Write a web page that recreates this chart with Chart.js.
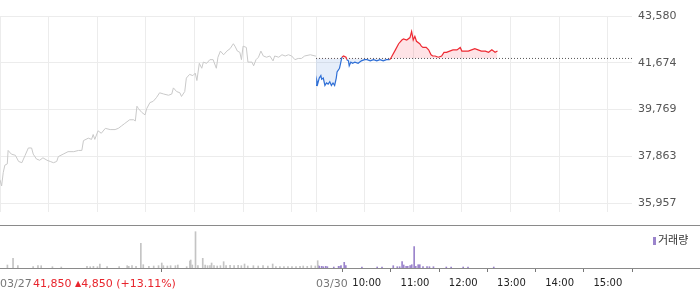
<!DOCTYPE html>
<html>
<head>
<meta charset="utf-8">
<script src="https://cdn.jsdelivr.net/npm/chart.js@4/dist/chart.umd.min.js"></script>
<style>
  html, body { margin: 0; padding: 0; background: #fff; }
  #wrap { position: relative; width: 700px; height: 289px; overflow: hidden; font-family: "DejaVu Sans", sans-serif; }
  #c1 { position: absolute; left: 0; top: 0; }
  #c2 { position: absolute; left: 0; top: 225px; }
  .hline { position: absolute; left: 0; width: 700px; height: 1px; background: #8a8a8a; }
  .lbl { position: absolute; font-size: 11px; line-height: 13px; white-space: nowrap; }
  #legend { position: absolute; left: 653px; top: 232px; font-family: "Noto Sans CJK KR", sans-serif; font-size: 11px; line-height: 14px; color: #333; white-space: nowrap; }
  #legend i { display: inline-block; width: 3px; height: 8px; background: #9b84cc; margin-right: 2px; vertical-align: -1px; }
</style>
</head>
<body>
<div id="wrap">
  <canvas id="c1" width="700" height="225"></canvas>
  <canvas id="c2" width="700" height="64"></canvas>
  <div class="hline" style="top:225px"></div>
  <div class="hline" style="top:268px; background:#8a8a8a"></div>
  <div class="lbl" id="d1" style="left:0; top:277px; color:#777">03/27</div>
  <div class="lbl" id="chg" style="left:33px; top:277px; color:#e8252d">41,850 <span style="font-size:8px; vertical-align:1px">▲</span>4,850 (+13.11%)</div>
  <div class="lbl" id="d2" style="left:316px; top:277px; color:#777">03/30</div>
  <div id="legend"><i></i>거래량</div>
</div>
<script>
// ---- data ----
const prevClose = 41850;
const yTickValues = [35957, 37863, 39769, 41674, 43580];

// 03/27 (minutes from 09:00)
const day1Minutes = [0,2,4,6,9,10,14,19,23,27,31,35,39,41,45,49,53,58,62,66,70,72,78,84,91,97,101,103,109,113,115,117,121,125,130,136,142,146,150,154,160,165,167,169,171,175,179,181,185,189,193,197,202,208,212,214,218,222,224,228,230,234,238,241,243,246,249,251,255,259,263,267,269,272,276,280,284,288,290,293,296,298,300,304,306,311,313,316,319,322,325,329,333,337,339,344,348,352,356,360,364,368,372,376,383,389,390];
const day1Prices  = [36900,36650,37200,37500,37550,38100,37950,37900,37650,37600,37900,38200,38200,37950,37750,37700,37800,37700,37650,37600,37650,37850,37950,38050,38050,38100,38100,38500,38600,38550,38750,38550,38900,38800,39000,38950,38950,39000,39100,39200,39350,39350,39300,39900,39800,39650,39550,39800,40050,40100,40250,40450,40400,40350,40400,40650,40500,40450,40300,40500,41050,41200,41150,41250,40950,41650,41450,41700,41650,41800,41800,41450,41900,42150,42000,42150,42250,42450,42350,42150,42100,41800,42350,42300,41700,41700,41550,41800,41900,42150,41950,41900,41950,41750,41950,41900,42000,41950,42000,41950,41800,41850,41850,41950,42000,41950,41950];

// 03/30 (minutes counted from 03/27 09:00; 390 = 03/30 09:00)
const day2Minutes = [390,391,392,394,396,397,399,401,403,405,407,409,411,413,415,416,419,420,422,424,427,428,430,431,433,435,438,442,446,450,453,457,461,465,469,473,477,481,483,488,492,496,498,502,506,508,510,512,514,518,520,522,526,529,532,534,537,541,545,548,551,555,559,564,568,570,574,578,582,586,590,594,599,603,607,611,614];
const day2Prices  = [40750,40950,40800,41050,41150,41000,41050,40750,40850,40800,40900,40750,40850,40750,41050,41300,41450,41600,41900,41950,41900,41800,41750,41550,41700,41650,41700,41650,41750,41800,41800,41750,41800,41750,41800,41750,41800,41800,41900,42200,42450,42600,42650,42600,42700,42950,42600,42750,42550,42450,42350,42300,42300,42200,42000,41950,41950,41900,41950,42100,42100,42150,42200,42200,42300,42150,42150,42150,42200,42250,42200,42150,42150,42100,42200,42100,42150];

// volume
const vol1Minutes = [3,10,16,35,41,45,59,70,102,106,110,115,118,127,142,152,154,158,163,169,172,179,185,191,195,197,202,206,212,215,226,230,231,233,237,240,246,249,252,255,257,260,264,268,272,275,280,285,290,294,298,302,309,315,321,327,333,337,342,347,352,357,362,367,371,376,381,386,389];
const vol1Values  = [3000,9700,2300,1300,2300,2300,1300,1000,1700,1300,1700,1300,4000,1300,1300,2300,1700,2300,1700,24700,3300,1700,2000,2300,5000,2300,2000,2300,2300,3000,1300,7000,8000,3000,36300,2300,9700,3000,2300,2300,5000,2300,2000,2300,6300,2300,2700,2300,2700,2300,4000,2000,2300,2000,2300,2000,4000,1300,1300,1300,1300,1300,1300,1700,2000,1700,2300,2000,7300];
const vol2Minutes = [390,391,394,396,399,401,409,415,417,418,422,424,444,463,469,483,488,491,494,496,499,501,504,506,509,511,514,516,520,525,528,533,549,555,570,576,608];
const vol2Values  = [2300,1700,1700,1300,1700,1300,1000,1700,1700,2300,5700,2300,1000,1000,1000,2300,1300,1300,6300,3000,1700,1700,2300,3300,21300,1700,3300,3300,1300,1300,1300,1300,1000,1000,1000,1000,1000];

const gridMinutes = [0,60,120,180,240,300,360,390,450,510,570,630,690,750];
const axisTickMinutes = [0,390,450,510,570,630,690,750];
const axisTickLabels  = ['', '', '10:00','11:00','12:00','13:00','14:00','15:00'];

// ---- helpers ----
const zip = (xs, ys) => xs.map((x, i) => ({ x: x, y: ys[i] }));
const RED = '#ee2a33', BLUE = '#2f6fd6';

new Chart(document.getElementById('c1'), {
  type: 'line',
  data: {
    datasets: [
      { data: zip(day1Minutes, day1Prices), borderColor: '#c9c9c9', borderWidth: 1, pointRadius: 0, fill: false, tension: 0 },
      { data: zip(day2Minutes, day2Prices), borderColor: RED, borderWidth: 1.2, pointRadius: 0, tension: 0,
        segment: { borderColor: c => (c.p0.parsed.y + c.p1.parsed.y >= 2 * prevClose ? RED : BLUE) },
        fill: { value: prevClose, above: 'rgba(245,60,75,0.14)', below: 'rgba(60,120,215,0.13)' } },
      { data: [{ x: 390, y: prevClose }, { x: 780, y: prevClose }], borderColor: '#555', borderWidth: 1, borderDash: [1, 2], pointRadius: 0, fill: false }
    ]
  },
  options: {
    responsive: false, animation: false, events: [],
    layout: { padding: { top: 16, left: 0, right: 0, bottom: 0 } },
    plugins: { legend: { display: false }, tooltip: { enabled: false } },
    scales: {
      x: { type: 'linear', min: 0, max: 780,
           afterBuildTicks: s => { s.ticks = gridMinutes.map(v => ({ value: v })); },
           afterFit: s => { s.height = 0; },
           ticks: { display: false }, grid: { color: '#ececec', drawTicks: false }, border: { display: false } },
      y: { position: 'right', min: 35574, max: 43580,
           afterBuildTicks: s => { s.ticks = yTickValues.map(v => ({ value: v })); },
           afterFit: s => { s.width = 68; },
           ticks: { padding: 6, color: '#555', font: { family: 'DejaVu Sans', size: 11 }, callback: v => v.toLocaleString('en-US') },
           grid: { color: '#ececec', drawTicks: false }, border: { display: false } }
    }
  }
});

new Chart(document.getElementById('c2'), {
  type: 'bar',
  data: {
    datasets: [
      { data: zip(vol1Minutes, vol1Values), backgroundColor: '#c4c4c4', barThickness: 1, grouped: false },
      { data: zip(vol2Minutes, vol2Values), backgroundColor: '#9b84cc', barThickness: 1, grouped: false }
    ]
  },
  options: {
    responsive: false, animation: false, events: [],
    layout: { padding: { top: 1, left: 0, right: 68, bottom: 0 } },
    plugins: { legend: { display: false }, tooltip: { enabled: false } },
    scales: {
      x: { type: 'linear', min: 0, max: 780, offset: false,
           afterBuildTicks: s => { s.ticks = axisTickMinutes.map(v => ({ value: v })); },
           afterFit: s => { s.height = 21; },
           ticks: { autoSkip: false, maxRotation: 0, padding: 5, color: '#222', font: { family: 'DejaVu Sans', size: 10 },
                    callback: v => { const i = axisTickMinutes.indexOf(v); return i >= 0 ? axisTickLabels[i] : ''; } },
           grid: { drawOnChartArea: false, drawTicks: true, tickLength: 4, color: '#777' },
           border: { display: true, color: '#8a8a8a' } },
      y: { display: false, min: 0, max: 42000 }
    }
  }
});
</script>
</body>
</html>
